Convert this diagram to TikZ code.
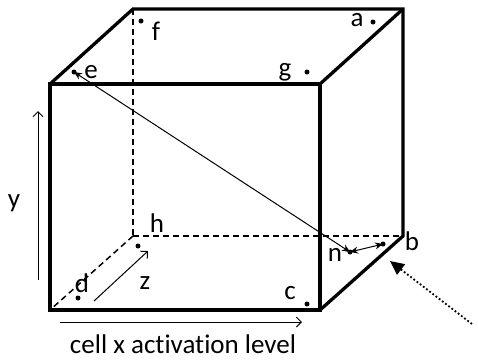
\documentclass[tikz,border=0pt]{standalone}
\usepackage{fontspec}
\setmainfont[Ligatures={NoCommon}]{Carlito}
\usetikzlibrary{arrows.meta}
\begin{document}
\begin{tikzpicture}[x=1pt,y=-1pt,
  edge/.style={line width=3.3pt,line join=miter},
  hidden/.style={line width=1.5pt,dash pattern=on 6pt off 4pt},
  thin/.style={line width=1pt},
  pt/.style={circle,fill=black,inner sep=0pt,minimum size=5pt},
  lbl/.style={font=\fontsize{27}{27}\selectfont,inner sep=0pt}]
\useasboundingbox (0,0) rectangle (478,360);
% corners
\coordinate (FTL) at (50,84);
\coordinate (FTR) at (320,84);
\coordinate (FBL) at (50,310);
\coordinate (FBR) at (320,310);
\coordinate (BTL) at (133,9);
\coordinate (BTR) at (403,9);
\coordinate (BBL) at (133,236);
\coordinate (BBR) at (403,236);
% hidden edges
\draw[hidden] (BTL) -- (BBL);
\draw[hidden] (BBL) -- (BBR);
\draw[hidden] (BBL) -- (FBL);
% visible edges
\draw[edge] (FTL) rectangle (FBR);
\draw[edge] (FTL) -- (BTL) -- (BTR) -- (BBR) -- (FBR);
\draw[edge] (BTR) -- (FTR);
% points
\node[pt] (a) at (373,22) {};
\node[pt] (f) at (141,21) {};
\node[pt] (e) at (74,72) {};
\node[pt] (g) at (307,72) {};
\node[pt] (h) at (138,246) {};
\node[pt] (d) at (78,298) {};
\node[pt] (c) at (307,304) {};
\node[pt] (n) at (350,252) {};
\node[pt] (b) at (383,244) {};
% labels
\node[lbl] (la) at (357,20) {a};
\node[lbl] (lf) at (156,31) {f};
\node[lbl] (le) at (91,72) {e};
\node[lbl] (lg) at (285,72) {g};
\node[lbl] (lh) at (157,223) {h};
\node[lbl] (ld) at (82,283) {d};
\node[lbl] (lc) at (290,293) {c};
\node[lbl] (ln) at (335,255) {n};
\node[lbl] (lb) at (412,241) {b};
\node[lbl] (lz) at (145,283) {z};
\node[lbl] (ly) at (14,203) {y};
\node[lbl] (lx) at (183,344) {cell x activation level};
% connectors
\draw[thin,{Stealth[length=8pt,width=7pt]}-{Stealth[length=8pt,width=7pt]}] (e.center) -- (n.center);
\draw[thin,{Stealth[length=8pt,width=7pt]}-{Stealth[length=8pt,width=7pt]}] (n.center) -- (b.center);
% axes
\coordinate (ya) at (38,280);
\coordinate (yb) at (38,111);
\draw[thin,-{Straight Barb[length=5pt,width=10pt]}] (ya) -- (yb);
\coordinate (xa) at (60,322);
\coordinate (xb) at (302,322);
\draw[thin,-{Straight Barb[length=5pt,width=10pt]}] (xa) -- (xb);
\coordinate (za) at (94,301);
\coordinate (zb) at (148,251);
\draw[thin,-{Straight Barb[length=5pt,width=10pt]}] (za) -- (zb);
% pointer
\coordinate (pa) at (472,324);
\coordinate (pb) at (390,261);
\draw[line width=1.8pt,dash pattern=on 1.8pt off 2.2pt,-{Triangle[length=14pt,width=13pt]}] (pa) -- (pb);
\end{tikzpicture}
\end{document}
